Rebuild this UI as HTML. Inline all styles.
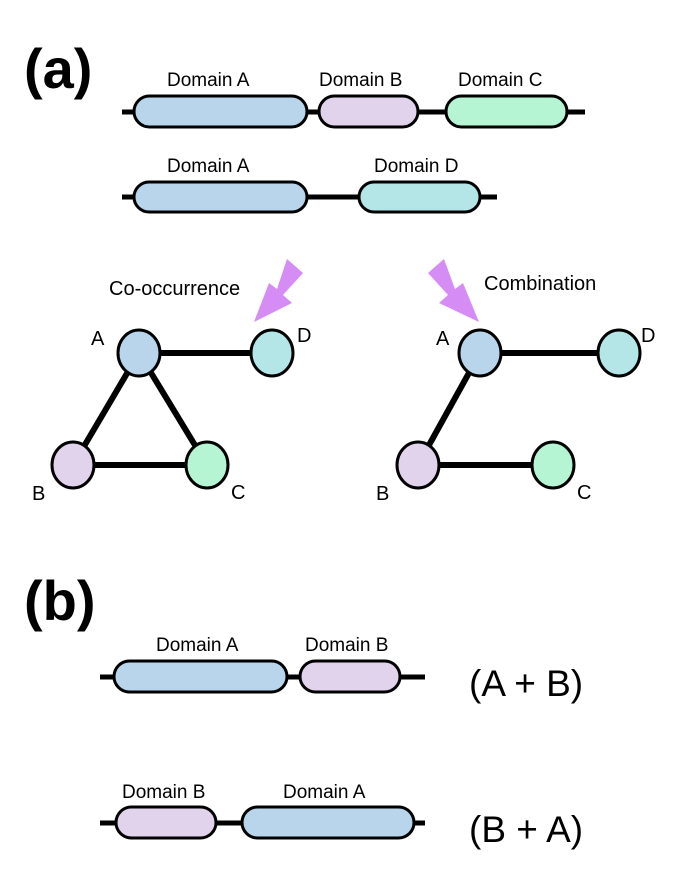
<!DOCTYPE html>
<html><head><meta charset="utf-8"><style>
html,body{margin:0;padding:0;background:#fff;}
svg{display:block;font-family:"Liberation Sans",Arial,sans-serif;}
</style></head><body>
<svg width="685" height="870" viewBox="0 0 685 870" xmlns="http://www.w3.org/2000/svg">
<text x="24" y="88" font-size="56" font-weight="bold">(a)</text>
<g stroke="#000" stroke-width="3">
<line x1="122" y1="112" x2="585" y2="112" stroke-width="5"/>
<rect x="134" y="96" width="173" height="31" rx="15.5" fill="#b8d5ec"/>
<rect x="319" y="96" width="99" height="31" rx="15.5" fill="#e2d3ec"/>
<rect x="446" y="96" width="121" height="31" rx="15.5" fill="#b5f5d4"/>
<line x1="122" y1="197" x2="497" y2="197" stroke-width="5"/>
<rect x="134" y="182" width="173" height="30" rx="15" fill="#b8d5ec"/>
<rect x="359" y="182" width="121" height="30" rx="15" fill="#b4e6e8"/>
</g>
<g font-size="19" fill="#000">
<text x="167" y="86">Domain A</text>
<text x="319" y="86">Domain B</text>
<text x="458" y="86">Domain C</text>
<text x="167" y="172">Domain A</text>
<text x="374" y="172">Domain D</text>
<text x="109" y="295" font-size="20">Co-occurrence</text>
<text x="484" y="290" font-size="20">Combination</text>
</g>
<polygon points="287,259 303,273 283,295 292,303 254,322 269,283 277,289" fill="#d68cf5"/>
<polygon points="444,259 428,273 448,295 439,303 479,322 463,283 455,289" fill="#d68cf5"/>
<g stroke="#000" stroke-width="6">
<line x1="139" y1="353" x2="272" y2="353"/>
<line x1="139" y1="353" x2="73" y2="465"/>
<line x1="139" y1="353" x2="207" y2="465"/>
<line x1="73" y1="465" x2="207" y2="465"/>
<line x1="480" y1="353" x2="619" y2="353"/>
<line x1="480" y1="353" x2="418" y2="465"/>
<line x1="418" y1="465" x2="553" y2="465"/>
</g>
<g stroke="#000" stroke-width="3">
<ellipse cx="139" cy="353" rx="21" ry="23" fill="#b8d5ec"/>
<ellipse cx="272" cy="353" rx="21" ry="23" fill="#b4e6e8"/>
<ellipse cx="73" cy="465" rx="21" ry="23" fill="#e2d3ec"/>
<ellipse cx="207" cy="465" rx="21" ry="23" fill="#b5f5d4"/>
<ellipse cx="480" cy="353" rx="21" ry="23" fill="#b8d5ec"/>
<ellipse cx="619" cy="353" rx="21" ry="23" fill="#b4e6e8"/>
<ellipse cx="418" cy="465" rx="21" ry="23" fill="#e2d3ec"/>
<ellipse cx="553" cy="465" rx="21" ry="23" fill="#b5f5d4"/>
</g>
<g font-size="20">
<text x="91" y="345">A</text>
<text x="297" y="342">D</text>
<text x="32" y="500">B</text>
<text x="231" y="499">C</text>
<text x="436" y="345">A</text>
<text x="641" y="342">D</text>
<text x="376" y="500">B</text>
<text x="577" y="499">C</text>
</g>
<text x="24" y="620" font-size="56" font-weight="bold">(b)</text>
<g stroke="#000" stroke-width="3">
<line x1="100" y1="677" x2="425" y2="677" stroke-width="5"/>
<rect x="114" y="661" width="173" height="31" rx="15.5" fill="#b8d5ec"/>
<rect x="300" y="661" width="100" height="31" rx="15.5" fill="#e2d3ec"/>
<line x1="100" y1="823" x2="425" y2="823" stroke-width="5"/>
<rect x="116" y="807" width="100" height="31" rx="15.5" fill="#e2d3ec"/>
<rect x="242" y="807" width="172" height="31" rx="15.5" fill="#b8d5ec"/>
</g>
<g font-size="19">
<text x="156" y="651">Domain A</text>
<text x="305" y="651">Domain B</text>
<text x="122" y="798">Domain B</text>
<text x="283" y="798">Domain A</text>
</g>
<g font-size="37">
<text x="469" y="696">(A + B)</text>
<text x="469" y="842">(B + A)</text>
</g>
</svg>
</body></html>
